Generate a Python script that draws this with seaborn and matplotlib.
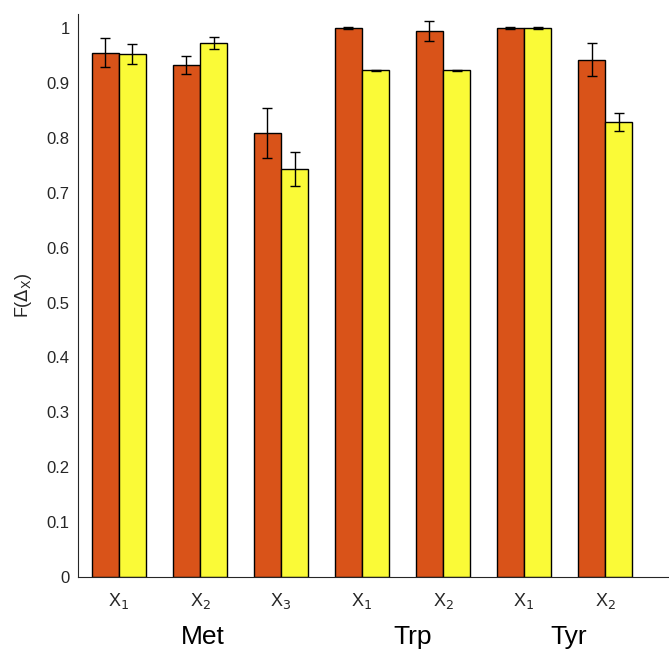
import matplotlib
matplotlib.use("Agg")
import matplotlib.pyplot as plt
import seaborn as sns
import pandas as pd
import numpy as np

# ---- data ----
categories = ["Met X1", "Met X2", "Met X3", "Trp X1", "Trp X2", "Tyr X1", "Tyr X2"]
tick_labels = [r"X$_1$", r"X$_2$", r"X$_3$", r"X$_1$", r"X$_2$", r"X$_1$", r"X$_2$"]
series_names = ["A", "B"]
vals_a = [0.955, 0.933, 0.809, 1.000, 0.995, 1.000, 0.942]
err_a = [0.026, 0.016, 0.046, 0.001, 0.018, 0.001, 0.030]
vals_b = [0.952, 0.972, 0.743, 0.923, 0.923, 1.000, 0.829]
err_b = [0.018, 0.011, 0.031, 0.001, 0.001, 0.001, 0.016]
group_names = ["Met", "Trp", "Tyr"]

df = pd.DataFrame({
    "cat": categories * 2,
    "series": [series_names[0]] * 7 + [series_names[1]] * 7,
    "val": vals_a + vals_b,
    "err": err_a + err_b,
})

sns.set_style("white")
plt.rcParams["font.family"] = ["Liberation Sans", "DejaVu Sans"]

fig = plt.figure(figsize=(6.69, 6.56), dpi=100)
ax = fig.add_axes([0.1166, 0.1204, 0.8834, 0.8583])

palette = {"A": "#D95319", "B": "#FAFA37"}
sns.barplot(data=df, x="cat", y="val", hue="series", order=categories,
            hue_order=series_names, palette=palette, width=0.667,
            edgecolor="black", linewidth=1.0, errorbar=None, ax=ax,
            legend=False, saturation=1)

# error bars at bar centers
for cont, errs in zip(ax.containers, [err_a, err_b]):
    xs = [p.get_x() + p.get_width() / 2 for p in cont.patches]
    hs = [p.get_height() for p in cont.patches]
    ax.errorbar(xs, hs, yerr=errs, fmt="none", ecolor="black",
                elinewidth=1.0, capsize=3.6, capthick=1.0, zorder=5)

ax.set_xlim(-0.506, 6.79)
ax.set_ylim(0, 1.0256)
ax.set_yticks(np.arange(0, 1.01, 0.1))
ax.set_yticklabels(["0"] + [f"{v:.1f}" for v in np.arange(0.1, 1.0, 0.1)] + ["1"])
ax.set_xticks(range(7))
ax.set_xticklabels(tick_labels, fontsize=13, color="#262626")
ax.tick_params(axis="y", direction="in", length=5, width=0.8, color="#262626",
               labelsize=12, labelcolor="#262626", pad=6)
ax.tick_params(axis="x", length=0, pad=10)
ax.set_xlabel("")
ax.set_ylabel(r"F($\Delta_{\mathrm{X}}$)", fontsize=13, color="#262626", labelpad=9)

for s in ["top", "right"]:
    ax.spines[s].set_visible(False)
for s in ["left", "bottom"]:
    ax.spines[s].set_color("#262626")
    ax.spines[s].set_linewidth(0.8)

# group labels
for name, xpos in zip(group_names, [1.03, 3.62, 5.55]):
    ax.text(xpos, -0.11, name, transform=ax.transData, ha="center", va="center",
            fontsize=19, color="black", clip_on=False)

fig.savefig("out.png", dpi=100)
